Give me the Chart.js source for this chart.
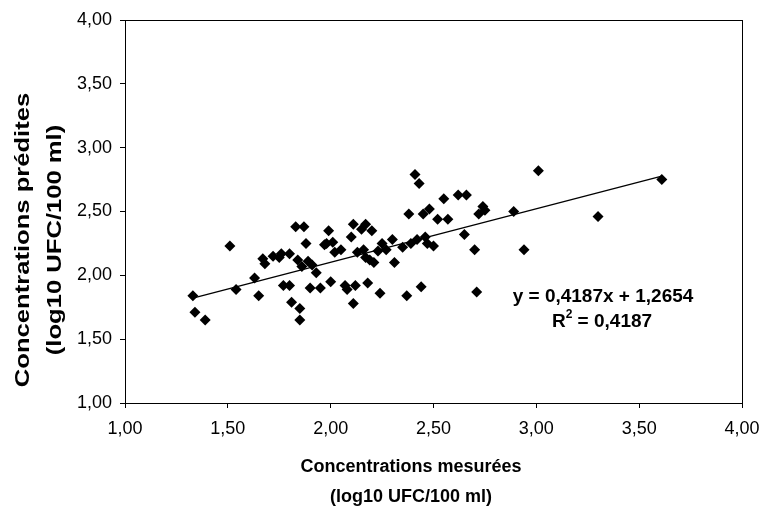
<!DOCTYPE html>
<html>
<head>
<meta charset="utf-8">
<script src="https://cdn.jsdelivr.net/npm/chart.js@4.4.1/dist/chart.umd.min.js"></script>
<style>
  html, body { margin: 0; padding: 0; background: #fff; }
  #wrap { width: 763px; height: 507px; }
</style>
</head>
<body>
<div id="wrap"><canvas id="chart"></canvas></div>
<script>
// concentrations mesurées (x) / prédites (y), log10 UFC/100 ml
const measured = [
    1.33, 1.34, 1.39, 1.51, 1.54, 1.63, 1.65, 1.67, 1.68, 1.72,
    1.75, 1.76, 1.77, 1.80, 1.80, 1.81, 1.83, 1.84, 1.85, 1.85,
    1.86, 1.87, 1.88, 1.89, 1.90, 1.91, 1.93, 1.95, 1.97, 1.98,
    1.99, 2.00, 2.01, 2.02, 2.05, 2.07, 2.08, 2.10, 2.11, 2.11,
    2.12, 2.13, 2.15, 2.16, 2.17, 2.17, 2.18, 2.19, 2.20, 2.21,
    2.23, 2.24, 2.25, 2.27, 2.30, 2.31, 2.35, 2.37, 2.38, 2.39,
    2.41, 2.42, 2.43, 2.44, 2.45, 2.46, 2.47, 2.48, 2.50, 2.52,
    2.55, 2.57, 2.62, 2.65, 2.66, 2.70, 2.71, 2.72, 2.74, 2.75,
    2.89, 2.94, 3.01, 3.30, 3.61
];
const predicted = [
    1.84, 1.71, 1.65, 2.23, 1.89, 1.98, 1.84, 2.13, 2.09, 2.15,
    2.14, 2.17, 1.92, 2.17, 1.92, 1.79, 2.38, 2.12, 1.74, 1.65,
    2.07, 2.38, 2.25, 2.11, 1.90, 2.08, 2.02, 1.90, 2.24, 2.25,
    2.35, 1.95, 2.26, 2.18, 2.20, 1.92, 1.89, 2.30, 2.40, 1.78,
    1.92, 2.18, 2.36, 2.20, 2.14, 2.40, 1.94, 2.12, 2.35, 2.10,
    2.19, 1.86, 2.25, 2.20, 2.28, 2.10, 2.22, 1.84, 2.48, 2.25,
    2.79, 2.28, 2.72, 1.91, 2.48, 2.30, 2.25, 2.52, 2.23, 2.44,
    2.60, 2.44, 2.63, 2.32, 2.63, 2.20, 1.87, 2.48, 2.54, 2.51,
    2.50, 2.20, 2.82, 2.46, 2.75
];
// droite de régression (extrémités)
const trendX = [1.33, 3.61];
const trendY = [1.822, 2.777];

const xTitle = ['Concentrations mesurées', '(log10 UFC/100 ml)'];
const yTitle = ['Concentrations prédites', '(log10 UFC/100 ml)'];
const equation = 'y = 0,4187x + 1,2654';
const r2Value = ' = 0,4187';

const FONT = '"Liberation Sans", Arial, sans-serif';

function fmt(v) {
    return v.toFixed(2).replace('.', ',');
}

const extras = {
    id: 'extras',
    afterDraw(chart) {
        const ctx = chart.ctx;
        const a = chart.chartArea;
        ctx.save();
        ctx.strokeStyle = '#000';
        ctx.lineWidth = 1;
        ctx.strokeRect(a.left + 0.5, a.top + 0.5, a.right - a.left, a.bottom - a.top);

        ctx.fillStyle = '#000';
        ctx.textAlign = 'center';
        ctx.textBaseline = 'middle';
        ctx.font = 'bold 18px ' + FONT;
        ctx.fillText(xTitle[0], 411, 467);
        ctx.fillText(xTitle[1], 411, 497);

        // titre vertical, un peu étiré comme dans l'original
        ctx.save();
        ctx.translate(23, 240);
        ctx.rotate(-Math.PI / 2);
        ctx.scale(1.28, 1);
        ctx.font = 'bold 20px ' + FONT;
        ctx.fillText(yTitle[0], 0, 0);
        ctx.fillText(yTitle[1], 0, 32);
        ctx.restore();

        ctx.font = 'bold 19px ' + FONT;
        ctx.fillText(equation, 603, 297);
        // R² avec exposant
        const wR = ctx.measureText('R').width;
        const wRest = ctx.measureText(r2Value).width;
        ctx.font = 'bold 12px ' + FONT;
        const w2 = ctx.measureText('2').width;
        const x0 = 602 - (wR + w2 + wRest) / 2;
        ctx.textAlign = 'left';
        ctx.font = 'bold 19px ' + FONT;
        ctx.fillText('R', x0, 322);
        ctx.font = 'bold 12px ' + FONT;
        ctx.fillText('2', x0 + wR, 315);
        ctx.font = 'bold 19px ' + FONT;
        ctx.fillText(r2Value, x0 + wR + w2, 322);
        ctx.restore();
    }
};

function makeChart() {
    const points = measured.map((x, i) => ({ x: x, y: predicted[i] }));
    const trend = trendX.map((x, i) => ({ x: x, y: trendY[i] }));

    const tickOpts = {
        color: '#000',
        font: { family: FONT, size: 18 },
        stepSize: 0.5,
        callback: v => fmt(v)
    };
    const gridOpts = { drawOnChartArea: false, color: '#000', tickLength: 5 };

    new Chart(document.getElementById('chart'), {
        type: 'scatter',
        data: {
            datasets: [{
                label: 'Concentrations',
                data: points,
                pointStyle: 'rectRot',
                pointRadius: 5.5,
                pointHoverRadius: 5.5,
                backgroundColor: '#000',
                borderColor: '#000',
                borderWidth: 0,
                order: 1
            }, {
                type: 'line',
                label: 'Linéaire',
                data: trend,
                borderColor: '#000',
                borderWidth: 1.3,
                pointRadius: 0,
                fill: false,
                order: 2
            }]
        },
        options: {
            responsive: true,
            maintainAspectRatio: false,
            animation: false,
            layout: { padding: { left: 0, right: 21, top: 20, bottom: 0 } },
            plugins: { legend: { display: false }, tooltip: { enabled: false } },
            scales: {
                x: {
                    type: 'linear', min: 1, max: 4,
                    ticks: Object.assign({ padding: 10 }, tickOpts),
                    grid: gridOpts,
                    border: { color: '#000' },
                    afterFit: s => {
                        s.height = 104;
                        s.paddingLeft = 0;
                        s.paddingRight = 0;
                    }
                },
                y: {
                    type: 'linear', min: 1, max: 4,
                    ticks: Object.assign({ padding: 8 }, tickOpts),
                    grid: gridOpts,
                    border: { color: '#000' },
                    afterFit: s => {
                        s.width = 125;
                        s.paddingTop = 0;
                        s.paddingBottom = 0;
                    }
                }
            }
        },
        plugins: [extras]
    });
}

window.addEventListener('load', makeChart);
</script>
</body>
</html>
